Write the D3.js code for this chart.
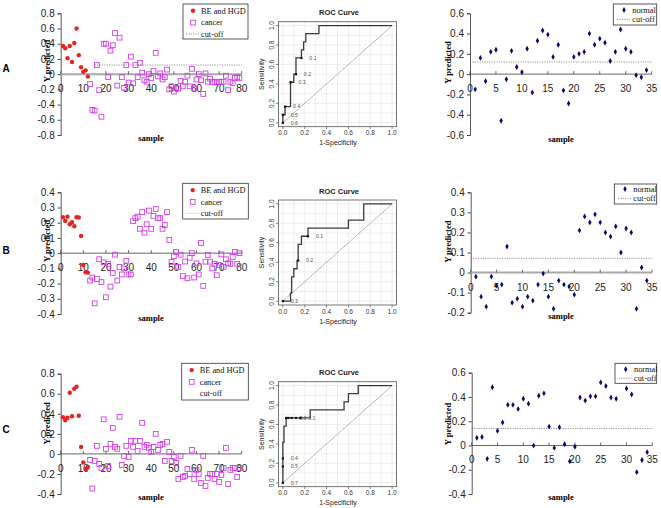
<!DOCTYPE html>
<html><head><meta charset="utf-8">
<script src="https://cdn.jsdelivr.net/npm/d3@7/dist/d3.min.js"></script>
<style>body{margin:0;background:#fff}svg{display:block}</style>
</head><body>
<svg id="chart" width="661" height="508"></svg>
<script>
// ---------------- DATA ----------------
const panelLetters = ["A", "B", "C"];
const seriesNames = ["BE and HGD", "cancer", "normal", "cut-off"];
const samplesBE = d3.range(1, 13);       // samples 1..12
const samplesCancer = d3.range(13, 80);  // samples 13..79
const samplesNormal = d3.range(1, 35);   // samples 1..34
const leftXTicks = [0, 10, 20, 30, 40, 50, 60, 70, 80];
const rightXTicks = [0, 5, 10, 15, 20, 25, 30, 35];
const rocTicks = [0, 0.2, 0.4, 0.6, 0.8, 1.0];

// Row A
const A_beHgd = [0.37, 0.34, 0.21, 0.37, 0.16, 0.41, 0.60, 0.25, 0.09, 0.03, 0.05, -0.03];
const A_cancer = [-0.13, -0.47, -0.48, 0.12, -0.21, -0.56, 0.40, 0.40, -0.04, 0.31, 0.38, 0.54, -0.15, 0.48,
  -0.04, -0.18, 0.12, -0.11, 0.23, -0.12, 0.12, -0.04, 0.15, 0.02, -0.08, -0.10, 0.00, -0.05, 0.04, 0.28,
  -0.03, 0.01, -0.07, -0.04, 0.06, -0.20, -0.16, -0.23, -0.18, -0.19, -0.09, -0.16, -0.10, -0.02, -0.16,
  0.07, -0.19, -0.07, 0.00, -0.08, -0.26, 0.01, -0.10, -0.06, -0.10, -0.10, -0.11, -0.10, -0.10, -0.10,
  -0.02, -0.21, -0.10, -0.12, -0.05, -0.04, -0.05];
const A_normal = [-0.15, 0.16, -0.07, 0.22, 0.24, -0.46, -0.05, 0.23, 0.07, 0.02, 0.25, -0.18, 0.33, 0.43,
  0.39, 0.17, 0.29, -0.16, -0.29, 0.17, 0.20, 0.22, 0.40, 0.29, 0.35, 0.31, 0.13, 0.22, 0.44, 0.25, 0.22,
  -0.01, -0.03, 0.04];
const A_cutLeft = 0.12, A_cutRight = 0.12;

// Row B
const B_beHgd = [0.236, 0.212, 0.24, 0.19, 0.203, 0.177, 0.236, 0.234, 0.113, -0.078, -0.126, -0.128];
const B_cancer = [-0.18, -0.16, -0.33, -0.17, -0.04, -0.19, -0.06, -0.29, -0.07, -0.22, -0.13, -0.01,
  -0.18, -0.09, -0.14, -0.10, -0.05, -0.14, -0.14, 0.21, 0.23, 0.24, 0.16, 0.27, 0.135, 0.19, 0.28, 0.16,
  0.245, 0.29, 0.23, 0.23, 0.16, 0.185, 0.27, 0.087, -0.058, -0.02, 0.008, -0.09, -0.01, -0.15, -0.055,
  -0.165, -0.03, 0.0, -0.16, -0.067, -0.14, 0.067, -0.215, -0.056, -0.012, -0.056, -0.10, -0.07, -0.145,
  -0.078, -0.008, -0.09, -0.04, -0.067, -0.07, -0.025, 0.008, -0.07, 0.0];
const B_normal = [-0.02, -0.12, -0.17, -0.02, -0.065, -0.06, 0.13, -0.15, -0.13, -0.17, -0.12, -0.14,
  -0.06, -0.005, -0.12, -0.18, -0.04, -0.06, -0.07, -0.11, 0.21, 0.28, 0.25, 0.29, 0.25, 0.20, 0.18, 0.23,
  0.10, 0.22, 0.20, -0.18, 0.025, -0.04];
const B_cutRight = 0.071;

// Row C
const C_beHgd = [0.365, 0.335, 0.36, 0.61, 0.375, 0.65, 0.67, 0.38, 0.07, -0.085, -0.15, -0.13];
const C_cancer = [-0.06, -0.345, -0.07, 0.08, -0.10, -0.14, 0.345, 0.05, -0.12, 0.10, 0.26, 0.07, 0.05,
  0.37, -0.11, -0.02, 0.08, -0.03, 0.13, 0.07, 0.13, 0.03, 0.13, 0.31, 0.07, 0.09, 0.06, 0.02, 0.07, 0.20,
  0.04, 0.09, 0.10, -0.07, 0.12, 0.02, -0.07, -0.03, -0.09, -0.25, -0.02, -0.23, -0.22, -0.15, -0.20, 0.04,
  -0.25, -0.16, -0.20, -0.29, -0.02, -0.32, -0.24, -0.20, -0.20, -0.25, -0.20, -0.28, -0.21, -0.14, 0.06,
  -0.30, -0.16, -0.14, -0.14, -0.23, -0.14];
const C_normal = [0.063, 0.07, -0.11, 0.48, 0.12, 0.19, 0.335, 0.335, 0.30, 0.385, 0.345, 0.0, 0.41, 0.43,
  0.155, -0.02, 0.15, 0.01, -0.13, -0.01, 0.395, 0.37, 0.405, 0.405, 0.52, 0.49, 0.395, 0.385, null, 0.47,
  0.42, -0.22, -0.12, -0.055];
const C_cutRight = 0.14;

// ROC curves (step vertices) and printed cut-offs
const rocA_fpr = [0, 0, 0.02, 0.02, 0.07, 0.07, 0.10, 0.10, 0.12, 0.12, 0.17, 0.17, 0.19, 0.19, 0.21, 0.21, 0.33, 0.33, 1];
const rocA_tpr = [0, 0.083, 0.083, 0.167, 0.167, 0.417, 0.417, 0.5, 0.5, 0.667, 0.667, 0.75, 0.75, 0.833, 0.833, 0.917, 0.917, 1, 1];
const rocA_cutLabels = ["0.1", "0.2", "0.3", "0.4", "0.5", "0.6"];
const rocA_cutFpr = [0.17, 0.12, 0.07, 0.02, 0.0, 0.0];
const rocA_cutTpr = [0.667, 0.5, 0.417, 0.167, 0.083, 0.0];

const rocB_fpr = [0, 0.07, 0.07, 0.08, 0.08, 0.10, 0.10, 0.13, 0.13, 0.14, 0.14, 0.17, 0.17, 0.23, 0.23, 0.60, 0.60, 0.74, 0.74, 1];
const rocB_tpr = [0, 0, 0.083, 0.083, 0.25, 0.25, 0.333, 0.333, 0.417, 0.417, 0.583, 0.583, 0.667, 0.667, 0.75, 0.75, 0.833, 0.833, 1, 1];
const rocB_cutLabels = ["0.1", "0.2", "0.3"];
const rocB_cutFpr = [0.23, 0.14, 0.0];
const rocB_cutTpr = [0.667, 0.417, 0.0];

const rocC_fpr = [0, 0, 0.01, 0.01, 0.03, 0.03, 0.25, 0.25, 0.56, 0.56, 0.60, 0.60, 0.69, 0.69, 1];
const rocC_tpr = [0, 0.417, 0.417, 0.583, 0.583, 0.667, 0.667, 0.75, 0.75, 0.833, 0.833, 0.917, 0.917, 1, 1];
const rocC_cutLabels = ["", "", "", "0.2", "0.1", "0.4", "0.5", "0.7"];
const rocC_cutFpr = [0.03, 0.05, 0.12, 0.08, 0.16, 0.0, 0.0, 0.0];
const rocC_cutTpr = [0.667, 0.667, 0.667, 0.667, 0.667, 0.25, 0.167, 0.0];

// ---------------- DRAWING ----------------
const svg = d3.select("#chart");
const SANS = "'Liberation Sans', Arial, sans-serif";
const SERIF = "'Liberation Serif', 'Times New Roman', serif";
const RED = "#e8231f", MAG = "#d13fe6", NAVY = "#0a0a6e";
const fmtY = d => (Math.round(d * 10) / 10).toString();

function scatter(cfg) {
  const g = svg.append("g");
  const x = d3.scaleLinear().domain(cfg.xDomain).range([cfg.x0, cfg.x1]);
  const y = d3.scaleLinear().domain(cfg.yDomain).range([cfg.yBot, cfg.yTop]);
  // y axis
  const ya = g.append("g").attr("transform", `translate(${cfg.x0},0)`)
    .call(d3.axisLeft(y).tickValues(cfg.yTicks).tickSize(3).tickPadding(3).tickFormat(fmtY));
  ya.select(".domain").attr("stroke", "#444").attr("stroke-width", 0.9);
  ya.selectAll(".tick line").attr("stroke", "#444");
  ya.selectAll(".tick text").attr("font-family", SANS).attr("font-size", 10).attr("fill", "#222");
  // x axis (zero line)
  const y0 = y(0);
  g.append("line").attr("x1", cfg.x0).attr("x2", cfg.x1).attr("y1", y0).attr("y2", y0)
    .attr("stroke", cfg.zeroThick ? "#a9a9a9" : "#555").attr("stroke-width", cfg.zeroThick ? 2 : 0.9);
  g.selectAll(".xt").data(cfg.xTicks).enter().append("line")
    .attr("x1", d => x(d)).attr("x2", d => x(d)).attr("y1", y0 - 3).attr("y2", y0)
    .attr("stroke", "#444").attr("stroke-width", 0.8);
  g.selectAll(".xl").data(cfg.xTicks).enter().append("text")
    .attr("x", d => x(d)).attr("y", y0 + 18).attr("text-anchor", "middle")
    .attr("font-family", SANS).attr("font-size", 10).attr("fill", "#222").text(d => d);
  // cut-off line
  if (cfg.cut != null) {
    g.append("line").attr("x1", x(cfg.cutFrom)).attr("x2", x(cfg.xDomain[1]))
      .attr("y1", y(cfg.cut)).attr("y2", y(cfg.cut))
      .attr("stroke", "#777").attr("stroke-width", 0.8).attr("stroke-dasharray", "1.2,1.2");
  }
  // series
  cfg.series.forEach(s => {
    const pts = s.values.map((v, i) => ({ xv: s.samples[i], yv: v })).filter(p => p.yv != null);
    if (s.type === "circle") {
      g.selectAll(null).data(pts).enter().append("circle")
        .attr("cx", p => x(p.xv)).attr("cy", p => y(p.yv)).attr("r", 2.2).attr("fill", RED);
    } else if (s.type === "square") {
      g.selectAll(null).data(pts).enter().append("rect")
        .attr("x", p => x(p.xv) - 2.4).attr("y", p => y(p.yv) - 2.4).attr("width", 4.8).attr("height", 4.8)
        .attr("fill", "none").attr("stroke", MAG).attr("stroke-width", 0.9);
    } else {
      g.selectAll(null).data(pts).enter().append("path")
        .attr("d", d3.symbol(d3.symbolDiamond, 10)())
        .attr("transform", p => `translate(${x(p.xv)},${y(p.yv)})`).attr("fill", NAVY);
    }
  });
  // axis titles
  g.append("text").attr("transform", `translate(${cfg.ylab[0]},${cfg.ylab[1]}) rotate(-90)`)
    .attr("text-anchor", "middle").attr("dy", "0.35em")
    .attr("font-family", SERIF).attr("font-weight", "bold").attr("font-size", 8.5).text("Y predicted");
  g.append("text").attr("x", cfg.xlab[0]).attr("y", cfg.xlab[1]).attr("text-anchor", "middle")
    .attr("font-family", SERIF).attr("font-weight", "bold").attr("font-size", 8.5).text("sample");
  // legend
  const L = cfg.legend;
  const lg = g.append("g").attr("transform", `translate(${L.x},${L.y})`);
  lg.append("rect").attr("width", L.w).attr("height", L.h).attr("fill", "#fff")
    .attr("stroke", "#333").attr("stroke-width", 0.8);
  L.rows.forEach((r, i) => {
    const cy = L.rowY[i];
    if (r.type === "circle") lg.append("circle").attr("cx", L.mx).attr("cy", cy).attr("r", 2.2).attr("fill", RED);
    else if (r.type === "square") lg.append("rect").attr("x", L.mx - 2.4).attr("y", cy - 2.4).attr("width", 4.8).attr("height", 4.8)
      .attr("fill", "none").attr("stroke", MAG).attr("stroke-width", 0.9);
    else if (r.type === "diamond") lg.append("path").attr("d", d3.symbol(d3.symbolDiamond, 10)())
      .attr("transform", `translate(${L.mx},${cy})`).attr("fill", NAVY);
    else if (r.type === "line") lg.append("line").attr("x1", L.mx - 7).attr("x2", L.mx + 6).attr("y1", cy).attr("y2", cy)
      .attr("stroke", r.faint ? "#bbb" : "#777").attr("stroke-width", 0.8).attr("stroke-dasharray", "1.2,1.2");
    lg.append("text").attr("x", L.tx).attr("y", cy).attr("dy", "0.33em")
      .attr("font-family", SERIF).attr("font-size", 8.3).attr("fill", "#111").text(r.label);
  });
}

function roc(cfg) {
  const g = svg.append("g");
  const L = 278.5, R = 396.5, T = cfg.top, B = cfg.top + 105;
  const x = d3.scaleLinear().domain([-0.04, 1.04]).range([L, R]);
  const y = d3.scaleLinear().domain([-0.04, 1.04]).range([B, T]);
  const grid = d3.range(0, 1.0001, 0.1);
  g.selectAll(null).data(grid).enter().append("line")
    .attr("x1", d => x(d)).attr("x2", d => x(d)).attr("y1", T).attr("y2", B)
    .attr("stroke", "#e2e2e2").attr("stroke-width", 0.6);
  g.selectAll(null).data(grid).enter().append("line")
    .attr("y1", d => y(d)).attr("y2", d => y(d)).attr("x1", L).attr("x2", R)
    .attr("stroke", "#e2e2e2").attr("stroke-width", 0.6);
  g.append("line").attr("x1", x(0)).attr("y1", y(0)).attr("x2", x(1)).attr("y2", y(1))
    .attr("stroke", "#a8a8a8").attr("stroke-width", 0.8);
  const line = d3.line().x(d => x(d[0])).y(d => y(d[1]));
  g.append("path").attr("d", line(cfg.fpr.map((f, i) => [f, cfg.tpr[i]])))
    .attr("fill", "none").attr("stroke", "#3a3a3a").attr("stroke-width", 1.3);
  cfg.cutFpr.forEach((f, i) => {
    g.append("rect").attr("x", x(f) - 1.1).attr("y", y(cfg.cutTpr[i]) - 1.1).attr("width", 2.2).attr("height", 2.2).attr("fill", "#111");
    if (cfg.cutLabels[i]) g.append("text").attr("x", x(f) + 11.5).attr("y", y(cfg.cutTpr[i])).attr("dy", "0.35em")
      .attr("text-anchor", "middle").attr("font-family", SANS).attr("font-size", 5.2).attr("fill", "#555").text(cfg.cutLabels[i]);
  });
  g.append("rect").attr("x", L).attr("y", T).attr("width", R - L).attr("height", B - T)
    .attr("fill", "none").attr("stroke", "#555").attr("stroke-width", 0.8);
  // ticks
  rocTicks.forEach(t => {
    g.append("line").attr("x1", x(t)).attr("x2", x(t)).attr("y1", B).attr("y2", B + 2.5).attr("stroke", "#555").attr("stroke-width", 0.7);
    g.append("text").attr("x", x(t)).attr("y", B + 8.5).attr("text-anchor", "middle")
      .attr("font-family", SANS).attr("font-size", 6.5).attr("fill", "#333").text(t.toFixed(1));
    g.append("line").attr("y1", y(t)).attr("y2", y(t)).attr("x1", L).attr("x2", L - 2.5).attr("stroke", "#555").attr("stroke-width", 0.7);
    g.append("text").attr("transform", `translate(${L - 4.3},${y(t)}) rotate(-90)`).attr("text-anchor", "middle")
      .attr("font-family", SANS).attr("font-size", 6.5).attr("fill", "#333").text(t.toFixed(1));
  });
  g.append("text").attr("x", 339).attr("y", T - 6.5).attr("text-anchor", "middle")
    .attr("font-family", SANS).attr("font-weight", "bold").attr("font-size", 7.5).attr("fill", "#222").text("ROC Curve");
  g.append("text").attr("x", 338).attr("y", B + 18.5).attr("text-anchor", "middle")
    .attr("font-family", SANS).attr("font-size", 7).attr("fill", "#222").text("1-Specificity");
  g.append("text").attr("transform", `translate(${261.7},${(T + B) / 2}) rotate(-90)`).attr("text-anchor", "middle").attr("dy", "0.35em")
    .attr("font-family", SANS).attr("font-size", 7).attr("fill", "#222").text("Sensitivity");
}

const leftLegendRows = (lineType) => [
  { type: "circle", label: seriesNames[0] }, { type: "square", label: seriesNames[1] }, lineType];
const rightLegendRows = [{ type: "diamond", label: seriesNames[2] }, { type: "line", label: seriesNames[3] }];

const rows = [
  { letter: panelLetters[0], ly: 72, be: A_beHgd, ca: A_cancer, no: A_normal,
    lt: 13.3, lb: 135, ld: [-0.8, 0.8], lticks: d3.range(-0.8, 0.801, 0.2), cutL: A_cutLeft, zl: true,
    leg: { x: 183, y: 4, w: 65, h: 35 }, legLine: { type: "line", label: seriesNames[3] },
    ylabL: 61, xlabY: 140.5,
    rt: 13.3, rb: 135, rd: [-0.6, 0.6], rticks: d3.range(-0.6, 0.601, 0.2), cutR: A_cutRight, zr: false,
    rx0: 470, rx1: 651.7, rleg: { x: 613.3, y: 4, w: 43.4, h: 21, r: [6, 15.3] }, ylabR: 62.5, xlabYR: 141.5,
    rocTop: 21.7, rocF: rocA_fpr, rocT: rocA_tpr, cl: rocA_cutLabels, cf: rocA_cutFpr, ct: rocA_cutTpr },
  { letter: panelLetters[1], ly: 253.5, be: B_beHgd, ca: B_cancer, no: B_normal,
    lt: 192.3, lb: 314, ld: [-0.4, 0.4], lticks: d3.range(-0.4, 0.401, 0.1), cutL: null, zl: false,
    leg: { x: 182.7, y: 183.3, w: 65.6, h: 35.7 }, legLine: { type: "line", label: seriesNames[3], faint: true },
    ylabL: 240.8, xlabY: 320.5,
    rt: 192.3, rb: 312.7, rd: [-0.2, 0.4], rticks: d3.range(-0.2, 0.401, 0.1), cutR: B_cutRight, zr: true,
    rx0: 470.7, rx1: 652, rleg: { x: 614.3, y: 184, w: 42.4, h: 20, r: [5, 14.3] }, ylabR: 241.7, xlabYR: 319,
    rocTop: 200, rocF: rocB_fpr, rocT: rocB_tpr, cl: rocB_cutLabels, cf: rocB_cutFpr, ct: rocB_cutTpr },
  { letter: panelLetters[2], ly: 432.5, be: C_beHgd, ca: C_cancer, no: C_normal,
    lt: 373.7, lb: 494, ld: [-0.4, 0.8], lticks: d3.range(-0.4, 0.801, 0.2), cutL: null, zl: false,
    leg: { x: 181.7, y: 363.3, w: 66.6, h: 36.7 }, legLine: { type: "none", label: seriesNames[3] },
    ylabL: 423.3, xlabY: 499.5,
    rt: 372.7, rb: 494, rd: [-0.4, 0.6], rticks: d3.range(-0.4, 0.601, 0.2), cutR: C_cutRight, zr: false,
    rx0: 471.7, rx1: 652.3, rleg: { x: 615, y: 363.3, w: 41.7, h: 20, r: [6, 15] }, ylabR: 424, xlabYR: 499.5,
    rocTop: 381.7, rocF: rocC_fpr, rocT: rocC_tpr, cl: rocC_cutLabels, cf: rocC_cutFpr, ct: rocC_cutTpr }
];

rows.forEach(r => {
  svg.append("text").attr("x", 6).attr("y", r.ly).attr("text-anchor", "middle")
    .attr("font-family", SANS).attr("font-weight", "bold").attr("font-size", 10).text(r.letter);
  scatter({
    xDomain: [0, 80], x0: 60.7, x1: 241.7, yDomain: r.ld, yTop: r.lt, yBot: r.lb, yTicks: r.lticks,
    xTicks: leftXTicks, zeroThick: r.zl, cut: r.cutL, cutFrom: 15,
    series: [{ type: "square", samples: samplesCancer, values: r.ca }, { type: "circle", samples: samplesBE, values: r.be }],
    ylab: [46.7, r.ylabL], xlab: [151, r.xlabY],
    legend: { x: r.leg.x, y: r.leg.y, w: r.leg.w, h: r.leg.h, rowY: [6.8, 18.6, 30], mx: 10, tx: 18,
      rows: leftLegendRows(r.legLine) }
  });
  roc({ top: r.rocTop, fpr: r.rocF, tpr: r.rocT, cutLabels: r.cl, cutFpr: r.cf, cutTpr: r.ct });
  scatter({
    xDomain: [0, 35], x0: r.rx0, x1: r.rx1, yDomain: r.rd, yTop: r.rt, yBot: r.rb, yTicks: r.rticks,
    xTicks: rightXTicks, zeroThick: r.zr, cut: r.cutR, cutFrom: 0,
    series: [{ type: "diamond", samples: samplesNormal, values: r.no }],
    ylab: [448.3, r.ylabR], xlab: [561, r.xlabYR],
    legend: { x: r.leg ? r.rleg.x : 0, y: r.rleg.y, w: r.rleg.w, h: r.rleg.h, rowY: r.rleg.r, mx: 10.7, tx: 19,
      rows: rightLegendRows }
  });
});
</script>
</body></html>
